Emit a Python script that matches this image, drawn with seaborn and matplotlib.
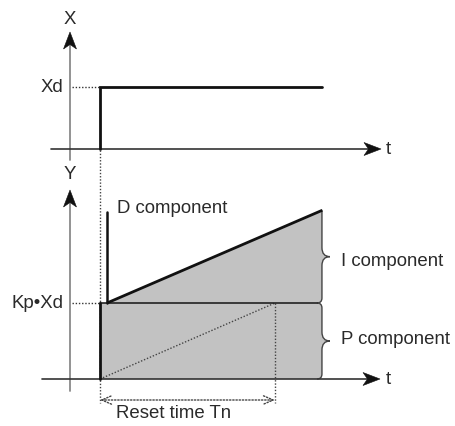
import numpy as np
import matplotlib
matplotlib.use("Agg")
import matplotlib.pyplot as plt
import seaborn as sns
from matplotlib.path import Path
from matplotlib.patches import PathPatch, Polygon

sns.set_theme(style="white")
plt.rcParams['font.family'] = ['Liberation Sans', 'DejaVu Sans']

# ---------------- data ----------------
t_step = 0.0        # time of the step in X
Tn = 1.0            # reset time
t_end = 1.27        # end of the drawn time range
t_d = 0.04          # D spike time
Xd = 1.0            # step height of X
KpXd = 1.0          # P component level (Kp*Xd)
D_peak = 2.2        # top of D spike
I_end = 2.22        # P + I at t_end
step_t = [t_step, t_step, t_end]
step_x = [0.0, Xd, Xd]
ramp_t = [t_d, t_end]
ramp_y = [KpXd, I_end]
level_labels = ["Xd", "Kp\u2022Xd"]
component_labels = ["D component", "I component", "P component"]
axis_labels = ["X", "Y", "t"]
reset_label = "Reset time Tn"

# ---------------- layout (pixel based) ----------------
W, H = 455, 426
X0PX, SX = 100, 175          # px of t=0, px per unit t
TOP_Y0, TOP_SY = 149, 62     # top panel: px of X=0, px per unit
BOT_Y0, BOT_SY = 379, 76     # bottom panel: px of Y=0, px per unit
AXIS_PX = 70                 # px of the vertical axes
FS = 13.4

fig = plt.figure(figsize=(W / 100, H / 100), dpi=100)
ax1 = fig.add_axes([0, 0, 1, 1])
ax2 = fig.add_axes([0, 0, 1, 1])
for ax, y0, sy in ((ax1, TOP_Y0, TOP_SY), (ax2, BOT_Y0, BOT_SY)):
    ax.set_xlim(-X0PX / SX, (W - X0PX) / SX)
    ax.set_ylim((y0 - H) / sy, y0 / sy)
    ax.axis('off')
    ax.patch.set_alpha(0)

def tx(px):
    return (px - X0PX) / SX

def head(ax, tip, direction, sy, L=17, Wd=6.5, notch=4.5, color='#111'):
    ux, uy = direction
    qx, qy = -uy, ux
    x0, y0 = tip
    def P(a, b):
        return (x0 + (a * ux + b * qx) / SX, y0 + (a * uy + b * qy) / sy)
    verts = [P(0, 0), P(-L, Wd), P(-L + notch, 0), P(-L, -Wd)]
    ax.add_patch(Polygon(verts, closed=True, fc=color, ec=color, lw=0.4, zorder=6))

DOT = (0, (1.0, 1.3))
AXGRAY = '#8a8a8a'
DARK = '#2a2a2a'

# ---------------- top panel ----------------
ax_t = tx(AXIS_PX)
tipX = (TOP_Y0 - 32) / TOP_SY
ax1.plot([ax_t, ax_t], [(TOP_Y0 - 160) / TOP_SY, tipX - 10 / TOP_SY], color=AXGRAY, lw=1.3, zorder=4)
head(ax1, (ax_t, tipX), (0, 1), TOP_SY)
tip_t1 = tx(381)
ax1.plot([tx(51), tip_t1 - 10 / SX], [0, 0], color='#333333', lw=1.2, zorder=4)
head(ax1, (tip_t1, 0), (1, 0), TOP_SY)
ax1.text(ax_t, (TOP_Y0 - 20) / TOP_SY, axis_labels[0], ha='center', va='center', fontsize=FS, color=DARK)
ax1.text(tx(388), 0, axis_labels[2], ha='center', va='center', fontsize=FS, color=DARK)

ax1.plot(step_t, step_x, color='#111111', lw=2.0, zorder=5, solid_joinstyle='miter')
ax1.plot([tx(72), t_step], [Xd, Xd], color='#333333', lw=1.0, ls=DOT, zorder=3)
ax1.text(tx(63), Xd, level_labels[0], ha='right', va='center', fontsize=FS, color=DARK)

# ---------------- bottom panel ----------------
tipY = (BOT_Y0 - 190) / BOT_SY
ax2.plot([ax_t, ax_t], [(BOT_Y0 - 391) / BOT_SY, tipY - 10 / BOT_SY], color=AXGRAY, lw=1.3, zorder=4)
head(ax2, (ax_t, tipY), (0, 1), BOT_SY)
tip_t2 = tx(380)
ax2.plot([tx(42), tip_t2 - 10 / SX], [0, 0], color='#333333', lw=1.2, zorder=4)
head(ax2, (tip_t2, 0), (1, 0), BOT_SY)
ax2.text(ax_t, (BOT_Y0 - 175) / BOT_SY, axis_labels[1], ha='center', va='center', fontsize=FS, color=DARK)
ax2.text(tx(388), 0, axis_labels[2], ha='center', va='center', fontsize=FS, color=DARK)

# gray region with brace-shaped right edge
def brace(x0, ytop, ybot, r=5, w=8, h=9, top_round=True):
    rx, ry = r / SX, r / BOT_SY
    wx, hy = w / SX, h / BOT_SY
    ym = (ytop + ybot) / 2
    v, c = [], []
    if top_round:
        v += [(x0 - rx, ytop), (x0, ytop), (x0, ytop - ry)]
        c += [Path.LINETO, Path.CURVE3, Path.CURVE3]
    else:
        v += [(x0, ytop)]
        c += [Path.LINETO]
    v += [(x0, ym + hy), (x0, ym), (x0 + wx, ym), (x0, ym), (x0, ym - hy)]
    c += [Path.LINETO, Path.CURVE3, Path.CURVE3, Path.CURVE3, Path.CURVE3]
    v += [(x0, ybot + ry), (x0, ybot), (x0 - rx, ybot)]
    c += [Path.LINETO, Path.CURVE3, Path.CURVE3]
    return v, c

bx = t_end - 0.3 / SX
vI, cI = brace(bx, ramp_y[1], KpXd, top_round=False)
vP, cP = brace(bx, KpXd, 0.0, top_round=True)

fill_v = [(t_step, 0.0), (t_step, KpXd), (ramp_t[0], ramp_y[0]), (ramp_t[1], ramp_y[1])] + vI + vP + [(t_step, 0.0), (t_step, 0.0)]
fill_c = [Path.MOVETO, Path.LINETO, Path.LINETO, Path.LINETO] + cI + cP + [Path.LINETO, Path.CLOSEPOLY]
ax2.add_patch(PathPatch(Path(fill_v, fill_c), fc='#c2c2c2', ec='none', zorder=2))
edge_v = [(ramp_t[1], ramp_y[1])] + vI + vP
edge_c = [Path.MOVETO] + cI + cP
ax2.add_patch(PathPatch(Path(edge_v, edge_c), fc='none', ec='#444444', lw=1.0, zorder=3))

# dotted guides
ax2.plot([t_step, t_step], [(BOT_Y0 - 150) / BOT_SY, (BOT_Y0 - 403) / BOT_SY], color='#444444', lw=1.0, ls=DOT, zorder=1)
ax2.plot([Tn, Tn], [KpXd, (BOT_Y0 - 403) / BOT_SY], color='#444444', lw=1.0, ls=DOT, zorder=3)
ax2.plot([t_step, Tn], [0.0, KpXd], color='#444444', lw=1.0, ls=DOT, zorder=3)
ax2.plot([tx(72), t_step], [KpXd, KpXd], color='#333333', lw=1.0, ls=DOT, zorder=3)
yarr = (BOT_Y0 - 400) / BOT_SY
ax2.annotate('', xy=(Tn, yarr), xytext=(t_step, yarr),
             arrowprops=dict(arrowstyle='<->, head_length=0.7, head_width=0.3', ls=DOT,
                             color='#444444', lw=1.0, shrinkA=0, shrinkB=0, mutation_scale=10))

# component lines
ax2.plot([t_step, t_step], [0.0, KpXd], color='#111111', lw=2.0, zorder=5)
ax2.plot([t_step, bx - 5 / SX], [KpXd, KpXd], color='#222222', lw=1.2, zorder=4)
ax2.plot(ramp_t, ramp_y, color='#111111', lw=2.0, zorder=5, solid_capstyle='butt')
ax2.plot([t_d, t_d], [KpXd, D_peak], color='#111111', lw=1.8, zorder=5)

# labels
ax2.text(tx(63), KpXd, level_labels[1], ha='right', va='center', fontsize=FS, color=DARK)
ax2.text(tx(117), (BOT_Y0 - 209) / BOT_SY, component_labels[0], ha='left', va='center', fontsize=FS, color=DARK)
ax2.text(tx(341), (BOT_Y0 - 262) / BOT_SY, component_labels[1], ha='left', va='center', fontsize=FS, color=DARK)
ax2.text(tx(341), (BOT_Y0 - 340) / BOT_SY, component_labels[2], ha='left', va='center', fontsize=FS, color=DARK)
ax2.text(tx(174), (BOT_Y0 - 413) / BOT_SY, reset_label, ha='center', va='center', fontsize=FS, color=DARK)

fig.savefig('out.png', dpi=100)
